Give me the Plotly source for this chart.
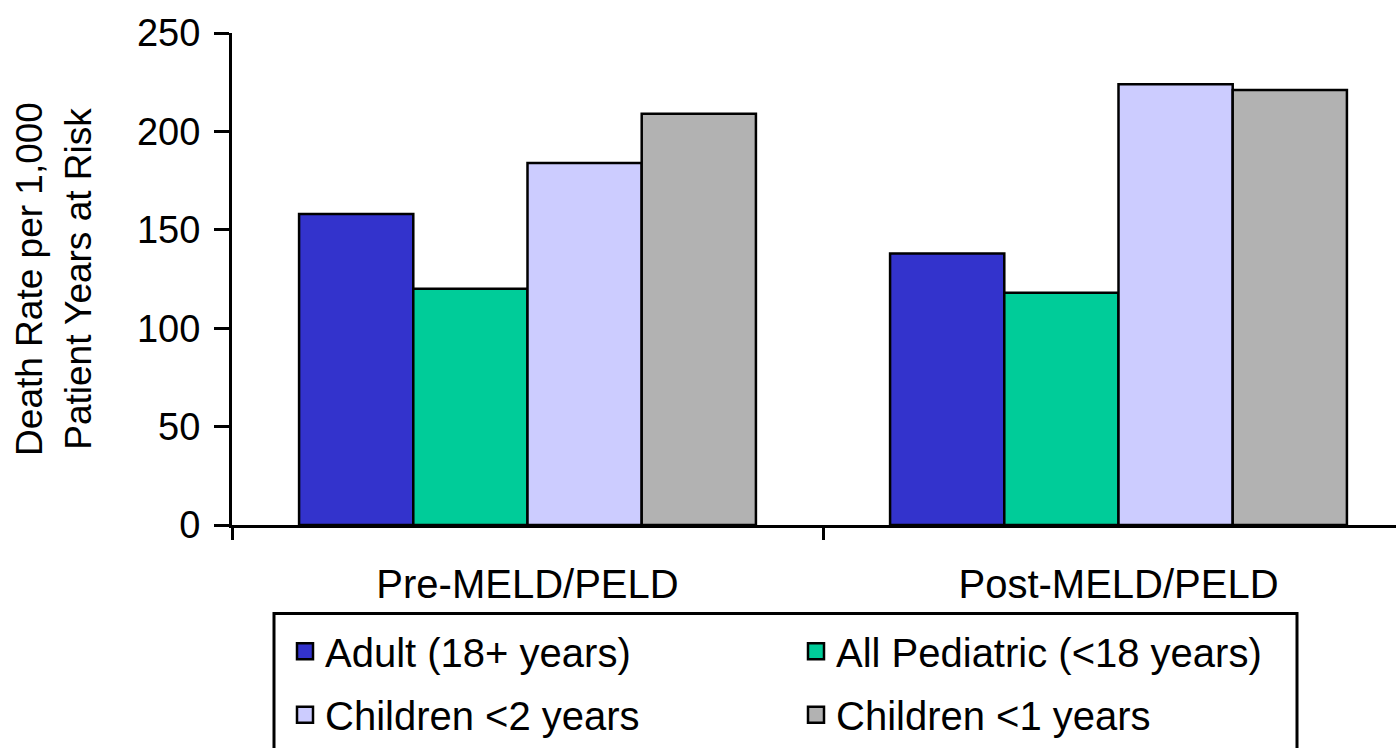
import plotly.graph_objects as go

# Death rate per 1,000 patient years at risk, before and after MELD/PELD
periods = ["Pre-MELD/PELD", "Post-MELD/PELD"]
adult = [158, 138]
all_pediatric = [120, 118]
children_under2 = [184, 224]
children_under1 = [209, 221]
y_ticks = [0, 50, 100, 150, 200, 250]

series = [
    ("Adult (18+ years)", adult, "#3333CC", "legend"),
    ("All Pediatric (<18 years)", all_pediatric, "#00CC99", "legend"),
    ("Children <2 years", children_under2, "#CCCCFF", "legend2"),
    ("Children <1 years", children_under1, "#B2B2B2", "legend2"),
]

FONT = "Arial, Liberation Sans, sans-serif"

fig = go.Figure()
for name, vals, color, leg in series:
    fig.add_trace(go.Bar(
        x=periods, y=vals, name=name, showlegend=False,
        marker=dict(color=color, line=dict(color="black", width=2.5)),
    ))
# legend keys: larger square swatches than the default bar key
for name, vals, color, leg in series:
    fig.add_trace(go.Scatter(
        x=[None], y=[None], mode="markers", name=name, legend=leg,
        marker=dict(symbol="square", size=16, color=color,
                    line=dict(color="black", width=2.5)),
        hoverinfo="skip",
    ))

W, H = 1396, 748
ML, MR, MT, MB = 232, 0, 33, 220
pw, ph = W - ML - MR, H - MT - MB


def px_x(p):
    return (p - ML) / pw


def px_y(p):
    return (H - MB - p) / ph


legend_common = dict(
    orientation="h", xanchor="left", yanchor="middle",
    font=dict(family=FONT, size=40, color="black"),
    bgcolor="rgba(0,0,0,0)", borderwidth=0,
    entrywidth=466, entrywidthmode="pixels",
    itemsizing="trace",
    traceorder="normal",
)

fig.update_layout(
    width=W, height=H,
    margin=dict(l=ML, r=MR, t=MT, b=MB, pad=0),
    paper_bgcolor="white", plot_bgcolor="white",
    font=dict(family=FONT, color="black"),
    barmode="group", bargap=0.227, bargroupgap=0,
    showlegend=True,
    legend=dict(x=px_x(285), y=px_y(655), **legend_common),
    legend2=dict(x=px_x(285), y=px_y(719), **legend_common),
    xaxis=dict(
        type="category", range=[-0.5, -0.5 + pw / 591.0],
        showline=True, linecolor="black", linewidth=3,
        ticks="outside", tickson="boundaries", ticklen=12,
        tickwidth=2.5, tickcolor="black",
        ticklabelstandoff=22,
        tickfont=dict(family=FONT, size=40, color="black"),
        showgrid=False, zeroline=False,
    ),
    yaxis=dict(
        range=[0, 250], tickvals=y_ticks,
        showline=True, linecolor="black", linewidth=3,
        ticks="outside", ticklen=15, tickwidth=2.5, tickcolor="black",
        ticklabelstandoff=6,
        tickfont=dict(family=FONT, size=38, color="black"),
        showgrid=False, zeroline=False,
        title=dict(
            text="Death Rate per 1,000<br>Patient Years at Risk",
            font=dict(family=FONT, size=37, color="black"),
            standoff=35,
        ),
        automargin=False,
    ),
    shapes=[dict(
        type="rect", xref="paper", yref="paper",
        x0=px_x(274), x1=px_x(1297), y0=px_y(770), y1=px_y(617),
        line=dict(color="black", width=3), fillcolor="rgba(0,0,0,0)",
    )],
)

fig.write_html("out.html")
